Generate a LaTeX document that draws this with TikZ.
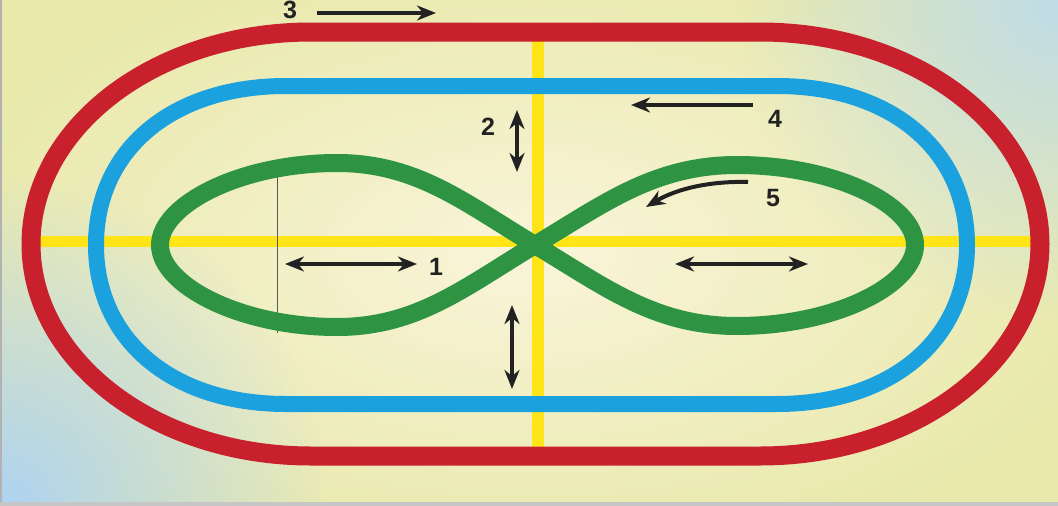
\documentclass[tikz,border=0pt]{standalone}
\usepackage{fontspec}
\setmainfont{Liberation Sans}
\usetikzlibrary{arrows.meta,fadings}
\tikzfading[name=myfadeout, inner color=transparent!0, outer color=transparent!100]
\definecolor{bgbase}{HTML}{E8E9AB}
\definecolor{bglight}{HTML}{FAF5DA}
\definecolor{bgblue}{HTML}{AED3F2}
\definecolor{bgblue2}{HTML}{BFDCE8}
\definecolor{redline}{HTML}{C8202C}
\definecolor{blueline}{HTML}{1BA1DD}
\definecolor{greenline}{HTML}{2E9444}
\definecolor{yellowline}{HTML}{FFE418}
\definecolor{arrowcol}{HTML}{222222}
\tikzset{
  ring/.style={line width=#1, line join=round},
  mark arrow/.style={draw=arrowcol, line width=4pt,
    arrows={-Stealth[length=19pt,width=15pt,inset=6pt]}},
  both arrow/.style={draw=arrowcol, line width=4pt,
    arrows={Stealth[length=19pt,width=15pt,inset=6pt]-Stealth[length=19pt,width=15pt,inset=6pt]}},
  digit/.style={font=\bfseries\fontsize{25}{25}\selectfont, text=arrowcol, inner sep=0pt},
}
\begin{document}
\begin{tikzpicture}[x=1pt,y=-1pt]
\useasboundingbox (0,0) rectangle (1058,506);
% background
\fill[bgbase] (0,0) rectangle (1058,506);
\begin{scope}
\clip (0,0) rectangle (1058,506);
\fill[bglight, path fading=myfadeout] (530,255) ellipse (600 and 320);
\fill[bgblue, path fading=myfadeout] (0,506) circle (330);
\fill[bgblue2, path fading=myfadeout] (1058,0) circle (320);
\end{scope}
\fill[gray!60] (0,0) rectangle (2,506);
\fill[gray!45] (0,502) rectangle (1058,506);
% yellow axes
\coordinate (hl) at (40,241);
\coordinate (hr) at (1032,241);
\coordinate (vt) at (538,40);
\coordinate (vb) at (538,448);
\draw[yellowline, line width=11pt] (hl) -- (hr);
\draw[yellowline, line width=12pt] (vt) -- (vb);
% red outer track
\draw[redline, ring=19pt] (311,32) -- (760,32)
  .. controls (915,32) and (1040,127) .. (1040,244)
  .. controls (1040,361) and (915,456) .. (760,456)
  -- (311,456)
  .. controls (156,456) and (31,361) .. (31,244)
  .. controls (31,127) and (156,32) .. (311,32) -- cycle;
% blue track
\draw[blueline, ring=16pt] (286,86) -- (777,86)
  .. controls (891,86) and (967,150) .. (967,245)
  .. controls (967,340) and (891,404) .. (777,404)
  -- (286,404)
  .. controls (172,404) and (96,340) .. (96,245)
  .. controls (96,150) and (172,86) .. (286,86) -- cycle;
% thin grey line
\coordinate (gt) at (277,173);
\coordinate (gb) at (277,333);
\draw[gray!70!black, line width=0.8pt] (gt) -- (gb);
% green figure eight
\coordinate (O) at (535,245);
\draw[greenline, ring=18pt] (O)
  .. controls (465,203) and (417,163) .. (337,163)
  .. controls (240,163) and (160,205) .. (160,245)
  .. controls (160,285) and (240,327) .. (337,327)
  .. controls (417,327) and (465,287) .. (O)
  .. controls (605,203) and (655,165) .. (737,165)
  .. controls (835,165) and (915,205) .. (915,245)
  .. controls (915,285) and (835,326) .. (737,326)
  .. controls (655,326) and (605,287) .. (O) -- cycle;
% arrows
\coordinate (a3s) at (317,13); \coordinate (a3e) at (436,13);
\draw[mark arrow] (a3s) -- (a3e);
\node[digit] (n3) at (290,10) {3};
\coordinate (a4s) at (753,105); \coordinate (a4e) at (631,105);
\draw[mark arrow] (a4s) -- (a4e);
\node[digit] (n4) at (775,119) {4};
\coordinate (a2s) at (517,110); \coordinate (a2e) at (517,172);
\draw[both arrow] (a2s) -- (a2e);
\node[digit] (n2) at (488,127) {2};
\coordinate (a5s) at (748,182); \coordinate (a5e) at (646,207);
\draw[mark arrow] (a5s) .. controls (712,181) and (678,188) .. (a5e);
\node[digit] (n5) at (773,198) {5};
\coordinate (a1s) at (285,264); \coordinate (a1e) at (417,264);
\draw[both arrow] (a1s) -- (a1e);
\node[digit] (n1) at (436,267) {1};
\coordinate (a6s) at (675,264); \coordinate (a6e) at (808,264);
\draw[both arrow] (a6s) -- (a6e);
\coordinate (a7s) at (512,305); \coordinate (a7e) at (512,389);
\draw[both arrow] (a7s) -- (a7e);
\end{tikzpicture}
\end{document}
